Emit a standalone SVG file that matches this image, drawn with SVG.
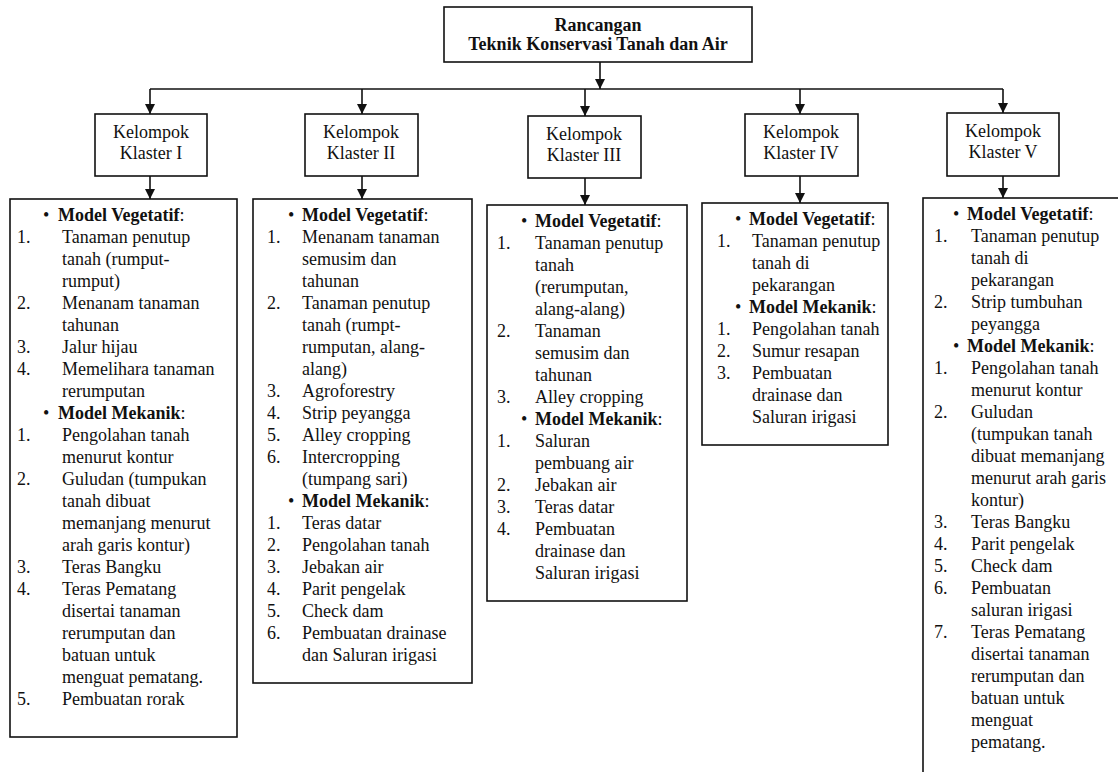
<svg xmlns="http://www.w3.org/2000/svg" width="1118" height="772" viewBox="0 0 1118 772">
<style>
.t{font-family:"Liberation Serif","Times New Roman",serif;font-size:18px;fill:#111}
.c{text-anchor:middle}
.b{font-weight:bold}
.box{fill:#fff;stroke:#111;stroke-width:1.6}
.conn{fill:none;stroke:#111;stroke-width:1.6}
</style>
<defs>
<marker id="ah" viewBox="0 0 10 10" refX="10" refY="5" markerWidth="10" markerHeight="10" markerUnits="userSpaceOnUse" orient="auto">
<path d="M0,0 L10,5 L0,10 z" fill="#111"/>
</marker>
</defs>
<rect width="1118" height="772" fill="#fff"/>

<g id="connectors">
<path class="conn" d="M600,62 V89" marker-end="url(#ah)"/>
<path class="conn" d="M150,89 H1003"/>
<path class="conn" d="M150,89 V114" marker-end="url(#ah)"/>
<path class="conn" d="M362,89 V114" marker-end="url(#ah)"/>
<path class="conn" d="M585,89 V116" marker-end="url(#ah)"/>
<path class="conn" d="M800,89 V114" marker-end="url(#ah)"/>
<path class="conn" d="M1003,89 V113" marker-end="url(#ah)"/>
<path class="conn" d="M150,176 V199" marker-end="url(#ah)"/>
<path class="conn" d="M362,176 V199" marker-end="url(#ah)"/>
<path class="conn" d="M585,178 V205" marker-end="url(#ah)"/>
<path class="conn" d="M800,176 V203" marker-end="url(#ah)"/>
<path class="conn" d="M1003,176 V198" marker-end="url(#ah)"/>
</g>

<g id="root">
<rect class="box" x="444" y="7" width="308" height="55"/>
<text class="t c b" x="598" y="31">Rancangan</text>
<text class="t c b" x="598" y="50">Teknik Konservasi Tanah dan Air</text>
</g>

<g id="klaster1">
<rect class="box" x="95" y="114" width="112" height="62"/>
<text class="t c" x="151" y="138">Kelompok</text>
<text class="t c" x="151" y="159">Klaster I</text>
</g>
<g id="klaster2">
<rect class="box" x="305" y="114" width="113" height="62"/>
<text class="t c" x="361" y="138">Kelompok</text>
<text class="t c" x="361" y="159">Klaster II</text>
</g>
<g id="klaster3">
<rect class="box" x="528" y="116" width="113" height="62"/>
<text class="t c" x="584" y="140">Kelompok</text>
<text class="t c" x="584" y="161">Klaster III</text>
</g>
<g id="klaster4">
<rect class="box" x="745" y="114" width="113" height="62"/>
<text class="t c" x="801" y="138">Kelompok</text>
<text class="t c" x="801" y="159">Klaster IV</text>
</g>
<g id="klaster5">
<rect class="box" x="947" y="113" width="112" height="63"/>
<text class="t c" x="1003" y="137">Kelompok</text>
<text class="t c" x="1003" y="158">Klaster V</text>
</g>

<g id="isi1">
<rect class="box" x="10" y="199" width="227" height="538"/>
<text class="t" x="43" y="221">•</text><text class="t" x="58" y="221"><tspan class="b">Model Vegetatif</tspan>:</text>
<text class="t" x="17" y="243">1.</text><text class="t" x="62" y="243">Tanaman penutup</text>
<text class="t" x="62" y="265">tanah (rumput-</text>
<text class="t" x="62" y="287">rumput)</text>
<text class="t" x="17" y="309">2.</text><text class="t" x="62" y="309">Menanam tanaman</text>
<text class="t" x="62" y="331">tahunan</text>
<text class="t" x="17" y="353">3.</text><text class="t" x="62" y="353">Jalur hijau</text>
<text class="t" x="17" y="375">4.</text><text class="t" x="62" y="375">Memelihara tanaman</text>
<text class="t" x="62" y="397">rerumputan</text>
<text class="t" x="43" y="419">•</text><text class="t" x="58" y="419"><tspan class="b">Model Mekanik</tspan>:</text>
<text class="t" x="17" y="441">1.</text><text class="t" x="62" y="441">Pengolahan tanah</text>
<text class="t" x="62" y="463">menurut kontur</text>
<text class="t" x="17" y="485">2.</text><text class="t" x="62" y="485">Guludan (tumpukan</text>
<text class="t" x="62" y="507">tanah dibuat</text>
<text class="t" x="62" y="529">memanjang menurut</text>
<text class="t" x="62" y="551">arah garis kontur)</text>
<text class="t" x="17" y="573">3.</text><text class="t" x="62" y="573">Teras Bangku</text>
<text class="t" x="17" y="595">4.</text><text class="t" x="62" y="595">Teras Pematang</text>
<text class="t" x="62" y="617">disertai tanaman</text>
<text class="t" x="62" y="639">rerumputan dan</text>
<text class="t" x="62" y="661">batuan untuk</text>
<text class="t" x="62" y="683">menguat pematang.</text>
<text class="t" x="17" y="705">5.</text><text class="t" x="62" y="705">Pembuatan rorak</text>
</g>

<g id="isi2">
<rect class="box" x="253" y="199" width="219" height="484"/>
<text class="t" x="288" y="221">•</text><text class="t" x="302" y="221"><tspan class="b">Model Vegetatif</tspan>:</text>
<text class="t" x="267" y="243">1.</text><text class="t" x="302" y="243">Menanam tanaman</text>
<text class="t" x="302" y="265">semusim dan</text>
<text class="t" x="302" y="287">tahunan</text>
<text class="t" x="267" y="309">2.</text><text class="t" x="302" y="309">Tanaman penutup</text>
<text class="t" x="302" y="331">tanah (rumpt-</text>
<text class="t" x="302" y="353">rumputan, alang-</text>
<text class="t" x="302" y="375">alang)</text>
<text class="t" x="267" y="397">3.</text><text class="t" x="302" y="397">Agroforestry</text>
<text class="t" x="267" y="419">4.</text><text class="t" x="302" y="419">Strip peyangga</text>
<text class="t" x="267" y="441">5.</text><text class="t" x="302" y="441">Alley cropping</text>
<text class="t" x="267" y="463">6.</text><text class="t" x="302" y="463">Intercropping</text>
<text class="t" x="302" y="485">(tumpang sari)</text>
<text class="t" x="288" y="507">•</text><text class="t" x="302" y="507"><tspan class="b">Model Mekanik</tspan>:</text>
<text class="t" x="267" y="529">1.</text><text class="t" x="302" y="529">Teras datar</text>
<text class="t" x="267" y="551">2.</text><text class="t" x="302" y="551">Pengolahan tanah</text>
<text class="t" x="267" y="573">3.</text><text class="t" x="302" y="573">Jebakan air</text>
<text class="t" x="267" y="595">4.</text><text class="t" x="302" y="595">Parit pengelak</text>
<text class="t" x="267" y="617">5.</text><text class="t" x="302" y="617">Check dam</text>
<text class="t" x="267" y="639">6.</text><text class="t" x="302" y="639">Pembuatan drainase</text>
<text class="t" x="302" y="661">dan Saluran irigasi</text>
</g>

<g id="isi3">
<rect class="box" x="487" y="205" width="200" height="396"/>
<text class="t" x="521" y="227">•</text><text class="t" x="535" y="227"><tspan class="b">Model Vegetatif</tspan>:</text>
<text class="t" x="497" y="249">1.</text><text class="t" x="535" y="249">Tanaman penutup</text>
<text class="t" x="535" y="271">tanah</text>
<text class="t" x="535" y="293">(rerumputan,</text>
<text class="t" x="535" y="315">alang-alang)</text>
<text class="t" x="497" y="337">2.</text><text class="t" x="535" y="337">Tanaman</text>
<text class="t" x="535" y="359">semusim dan</text>
<text class="t" x="535" y="381">tahunan</text>
<text class="t" x="497" y="403">3.</text><text class="t" x="535" y="403">Alley cropping</text>
<text class="t" x="521" y="425">•</text><text class="t" x="535" y="425"><tspan class="b">Model Mekanik</tspan>:</text>
<text class="t" x="497" y="447">1.</text><text class="t" x="535" y="447">Saluran</text>
<text class="t" x="535" y="469">pembuang air</text>
<text class="t" x="497" y="491">2.</text><text class="t" x="535" y="491">Jebakan air</text>
<text class="t" x="497" y="513">3.</text><text class="t" x="535" y="513">Teras datar</text>
<text class="t" x="497" y="535">4.</text><text class="t" x="535" y="535">Pembuatan</text>
<text class="t" x="535" y="557">drainase dan</text>
<text class="t" x="535" y="579">Saluran irigasi</text>
</g>

<g id="isi4">
<rect class="box" x="702" y="203" width="186" height="242"/>
<text class="t" x="735" y="225">•</text><text class="t" x="749" y="225"><tspan class="b">Model Vegetatif</tspan>:</text>
<text class="t" x="717" y="247">1.</text><text class="t" x="752" y="247">Tanaman penutup</text>
<text class="t" x="752" y="269">tanah di</text>
<text class="t" x="752" y="291">pekarangan</text>
<text class="t" x="735" y="313">•</text><text class="t" x="749" y="313"><tspan class="b">Model Mekanik</tspan>:</text>
<text class="t" x="717" y="335">1.</text><text class="t" x="752" y="335">Pengolahan tanah</text>
<text class="t" x="717" y="357">2.</text><text class="t" x="752" y="357">Sumur resapan</text>
<text class="t" x="717" y="379">3.</text><text class="t" x="752" y="379">Pembuatan</text>
<text class="t" x="752" y="401">drainase dan</text>
<text class="t" x="752" y="423">Saluran irigasi</text>
</g>

<g id="isi5">
<rect class="box" x="923" y="198" width="240" height="640"/>
<text class="t" x="953" y="220">•</text><text class="t" x="967" y="220"><tspan class="b">Model Vegetatif</tspan>:</text>
<text class="t" x="934" y="242">1.</text><text class="t" x="971" y="242">Tanaman penutup</text>
<text class="t" x="971" y="264">tanah di</text>
<text class="t" x="971" y="286">pekarangan</text>
<text class="t" x="934" y="308">2.</text><text class="t" x="971" y="308">Strip tumbuhan</text>
<text class="t" x="971" y="330">peyangga</text>
<text class="t" x="953" y="352">•</text><text class="t" x="967" y="352"><tspan class="b">Model Mekanik</tspan>:</text>
<text class="t" x="934" y="374">1.</text><text class="t" x="971" y="374">Pengolahan tanah</text>
<text class="t" x="971" y="396">menurut kontur</text>
<text class="t" x="934" y="418">2.</text><text class="t" x="971" y="418">Guludan</text>
<text class="t" x="971" y="440">(tumpukan tanah</text>
<text class="t" x="971" y="462">dibuat memanjang</text>
<text class="t" x="971" y="484">menurut arah garis</text>
<text class="t" x="971" y="506">kontur)</text>
<text class="t" x="934" y="528">3.</text><text class="t" x="971" y="528">Teras Bangku</text>
<text class="t" x="934" y="550">4.</text><text class="t" x="971" y="550">Parit pengelak</text>
<text class="t" x="934" y="572">5.</text><text class="t" x="971" y="572">Check dam</text>
<text class="t" x="934" y="594">6.</text><text class="t" x="971" y="594">Pembuatan</text>
<text class="t" x="971" y="616">saluran irigasi</text>
<text class="t" x="934" y="638">7.</text><text class="t" x="971" y="638">Teras Pematang</text>
<text class="t" x="971" y="660">disertai tanaman</text>
<text class="t" x="971" y="682">rerumputan dan</text>
<text class="t" x="971" y="704">batuan untuk</text>
<text class="t" x="971" y="726">menguat</text>
<text class="t" x="971" y="748">pematang.</text>
</g>
</svg>
